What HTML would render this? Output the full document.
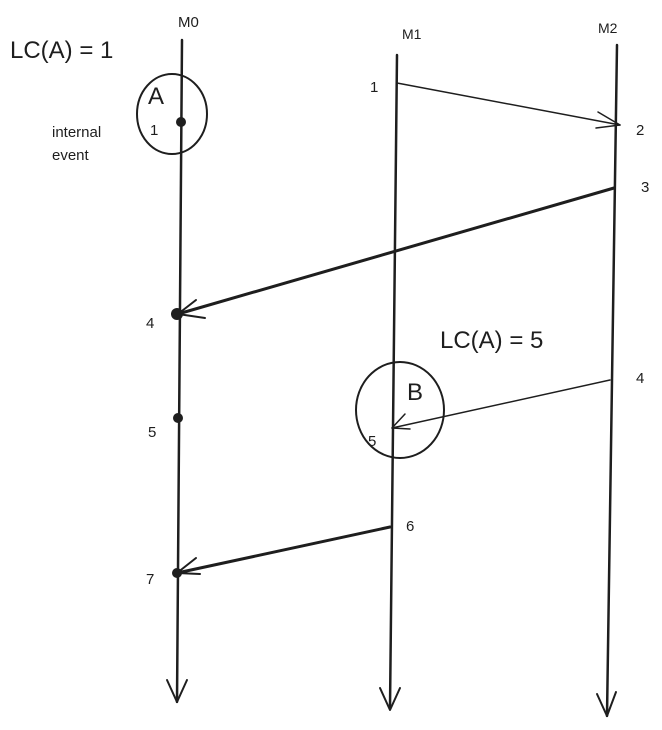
<!DOCTYPE html>
<html><head><meta charset="utf-8"><style>
html,body{margin:0;padding:0;background:#fff;}
svg{display:block;}
text{font-family:"Liberation Sans",sans-serif;fill:#1e1e1e;}
</style></head><body>
<svg width="662" height="730" viewBox="0 0 662 730" xmlns="http://www.w3.org/2000/svg">
<g stroke="#1e1e1e" fill="none" stroke-linecap="round" stroke-linejoin="round">
<!-- timelines -->
<path d="M182 40 L177 702" stroke-width="2.5"/>
<path d="M167 680 L177 702 L187 680" stroke-width="2"/>
<path d="M397 55 L390 708" stroke-width="2.5"/>
<path d="M380 688 L390 710 L400 688" stroke-width="2"/>
<path d="M617 45 L607 716" stroke-width="2.5"/>
<path d="M597 694 L607 716 L616 692" stroke-width="2"/>
<!-- messages -->
<path d="M397 83 L620 125" stroke-width="1.5"/>
<path d="M598 112 L620 125 L596 128" stroke-width="1.5"/>
<path d="M614 188 L178 314" stroke-width="3"/>
<path d="M196 300 L178 314 L205 318" stroke-width="2"/>
<path d="M610 380 L392 428" stroke-width="1.5"/>
<path d="M405 414 L392 428 L410 429" stroke-width="1.5"/>
<path d="M390 527 L177 573" stroke-width="3"/>
<path d="M196 558 L177 573 L200 574" stroke-width="2"/>
<!-- circles -->
<ellipse cx="172" cy="114" rx="35" ry="40" stroke-width="2"/>
<ellipse cx="400" cy="410" rx="44" ry="48" stroke-width="2"/>
</g>
<g fill="#1e1e1e">
<circle cx="181" cy="122" r="5"/>
<circle cx="177" cy="314" r="6"/>
<circle cx="178" cy="418" r="5"/>
<circle cx="177" cy="573" r="5"/>
</g>
<text x="178" y="27" font-size="15">M0</text>
<text x="402" y="39" font-size="14">M1</text>
<text x="598" y="33" font-size="14">M2</text>
<text x="10" y="58" font-size="24">LC(A) = 1</text>
<text x="148" y="104" font-size="24">A</text>
<text x="150" y="135" font-size="15">1</text>
<text x="52" y="137" font-size="15">internal</text>
<text x="52" y="160" font-size="15">event</text>
<text x="370" y="92" font-size="15">1</text>
<text x="636" y="135" font-size="15">2</text>
<text x="641" y="192" font-size="15">3</text>
<text x="146" y="328" font-size="15">4</text>
<text x="440" y="348" font-size="24">LC(A) = 5</text>
<text x="636" y="383" font-size="15">4</text>
<text x="407" y="400" font-size="24">B</text>
<text x="368" y="446" font-size="15">5</text>
<text x="148" y="437" font-size="15">5</text>
<text x="406" y="531" font-size="15">6</text>
<text x="146" y="584" font-size="15">7</text>
</svg>
</body></html>
